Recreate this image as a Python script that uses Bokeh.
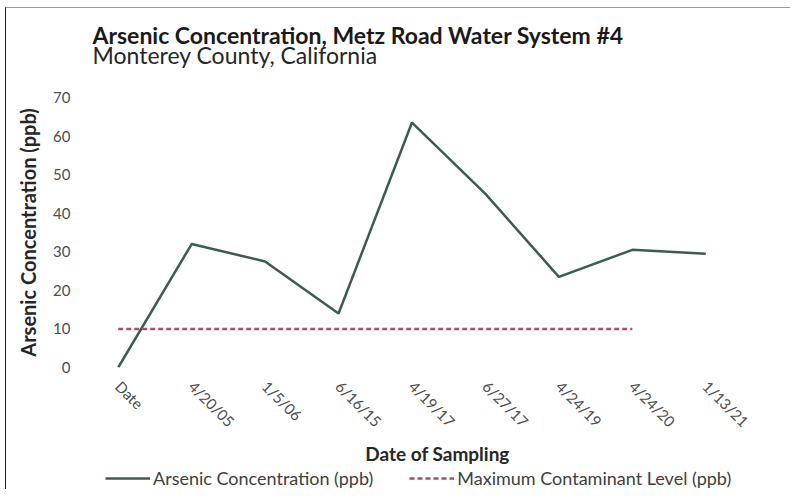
from bokeh.plotting import figure
from bokeh.models import FactorRange, Range1d, Label, Legend, LegendItem, FixedTicker
from bokeh.layouts import column
from bokeh.embed import file_html
from bokeh.resources import INLINE
import math

# ---- data ----
dates = ["Date", "4/20/05", "1/5/06", "6/16/15", "4/19/17", "6/27/17", "4/24/19", "4/24/20", "1/13/21"]
arsenic = [0, 32, 27.5, 14, 63.5, 45, 23.5, 30.5, 29.5]
mcl_dates = ["Date", "4/20/05", "1/5/06", "6/16/15", "4/19/17", "6/27/17", "4/24/19", "4/24/20"]
mcl = [10, 10, 10, 10, 10, 10, 10, 10]
y_ticks = [0, 10, 20, 30, 40, 50, 60, 70]

title_text = "Arsenic Concentration, Metz Road Water System #4"
subtitle_text = "Monterey County, California"
y_label = "Arsenic Concentration (ppb)"
x_label = "Date of Sampling"
legend_labels = ["Arsenic Concentration (ppb)", "Maximum Contaminant Level (ppb)"]

FONT = "Lato"
LINE_COLOR = "#3b5c53"
MCL_COLOR = "#ad4f66"
NAN = float("nan")

W = 784
left, right, top, bottom = 75, 48, 13, 76
H_MAIN = top + 270 + bottom
H_HEAD = 76
H_FOOT = 489 - 8 - H_HEAD - H_MAIN


def blank(h):
    f = figure(width=W, height=h, x_range=Range1d(0, W), y_range=Range1d(0, h),
               x_axis_type=None, y_axis_type=None, output_backend="svg", toolbar_location=None,
               min_border=0, min_border_left=0, min_border_right=0, min_border_top=0, min_border_bottom=0)
    f.outline_line_color = None
    f.background_fill_color = "white"
    f.border_fill_color = "white"
    f.xgrid.visible = False
    f.ygrid.visible = False
    return f


# ---- header: title + subtitle (screen units from the aligned frame) ----
head = blank(H_HEAD)
head.add_layout(Label(x=11, y=50, x_units="screen", text=title_text, text_font=FONT,
                      text_font_size="23px", text_font_style="bold", text_color="#1a1a1a",
                      text_baseline="alphabetic"))
head.add_layout(Label(x=11, y=30, x_units="screen", text=subtitle_text, text_font=FONT,
                      text_font_size="23px", text_color="#262626", text_baseline="alphabetic"))

# ---- main chart ----
p = figure(width=W, height=H_MAIN, x_range=FactorRange(factors=dates), y_range=Range1d(0, 70),
           output_backend="svg", toolbar_location=None,
           min_border_left=left, min_border_right=right, min_border_top=top, min_border_bottom=bottom)
p.background_fill_color = "white"
p.border_fill_color = "white"
p.outline_line_color = None
p.xgrid.grid_line_color = None
p.ygrid.grid_line_color = None

p.line(x=dates, y=arsenic, line_color=LINE_COLOR, line_width=2.5)
p.line(x=mcl_dates, y=mcl, line_color=MCL_COLOR, line_width=2.5, line_dash="5 3")

p.yaxis.ticker = FixedTicker(ticks=y_ticks)
p.yaxis.axis_line_color = None
p.yaxis.major_tick_line_color = None
p.yaxis.minor_tick_line_color = None
p.yaxis.major_label_text_font = FONT
p.yaxis.major_label_text_font_size = "15px"
p.yaxis.major_label_text_color = "#4d4d4d"
p.yaxis.major_label_standoff = 5
p.yaxis.axis_label = y_label
p.yaxis.axis_label_text_font = FONT
p.yaxis.axis_label_text_font_size = "20px"
p.yaxis.axis_label_text_font_style = "bold"
p.yaxis.axis_label_text_color = "#262626"
p.yaxis.axis_label_standoff = 10

p.xaxis.axis_line_color = None
p.xaxis.major_tick_line_color = None
p.xaxis.minor_tick_line_color = None
p.xaxis.major_label_orientation = -math.pi / 4
p.xaxis.major_label_text_font = FONT
p.xaxis.major_label_text_font_size = "15px"
p.xaxis.major_label_text_color = "#4d4d4d"
p.xaxis.major_label_standoff = 10

# ---- footer: x axis title + legend ----
foot = blank(H_FOOT)
foot.add_layout(Label(x=356, y=H_FOOT - 10, x_units="screen", y_units="screen", text=x_label,
                      text_font=FONT, text_font_size="19px", text_font_style="bold",
                      text_color="#262626", text_align="center", text_baseline="middle"))
# legend proxies (no visible data)
s1 = foot.line(x=[NAN], y=[NAN], line_color=LINE_COLOR, line_width=2.5)
s2 = foot.line(x=[NAN], y=[NAN], line_color=MCL_COLOR, line_width=2.5, line_dash="5 3")
legend = Legend(items=[LegendItem(label=legend_labels[0], renderers=[s1]),
                       LegendItem(label=legend_labels[1], renderers=[s2])],
                location=(24, 0), orientation="horizontal",
                padding=0, margin=0, spacing=36, glyph_width=45, glyph_height=16,
                label_standoff=3, label_height=22,
                label_text_font=FONT, label_text_font_size="18px", label_text_color="#404040",
                border_line_color=None, background_fill_alpha=0)
foot.add_layout(legend, "center")

layout = column(head, p, foot, spacing=0,
                styles={"margin-left": "5px", "margin-top": "7px",
                        "border-left": "1px solid #1a1a1a", "border-top": "1px solid #9a9a9a"})

open("out.html", "w").write(file_html(layout, INLINE))
